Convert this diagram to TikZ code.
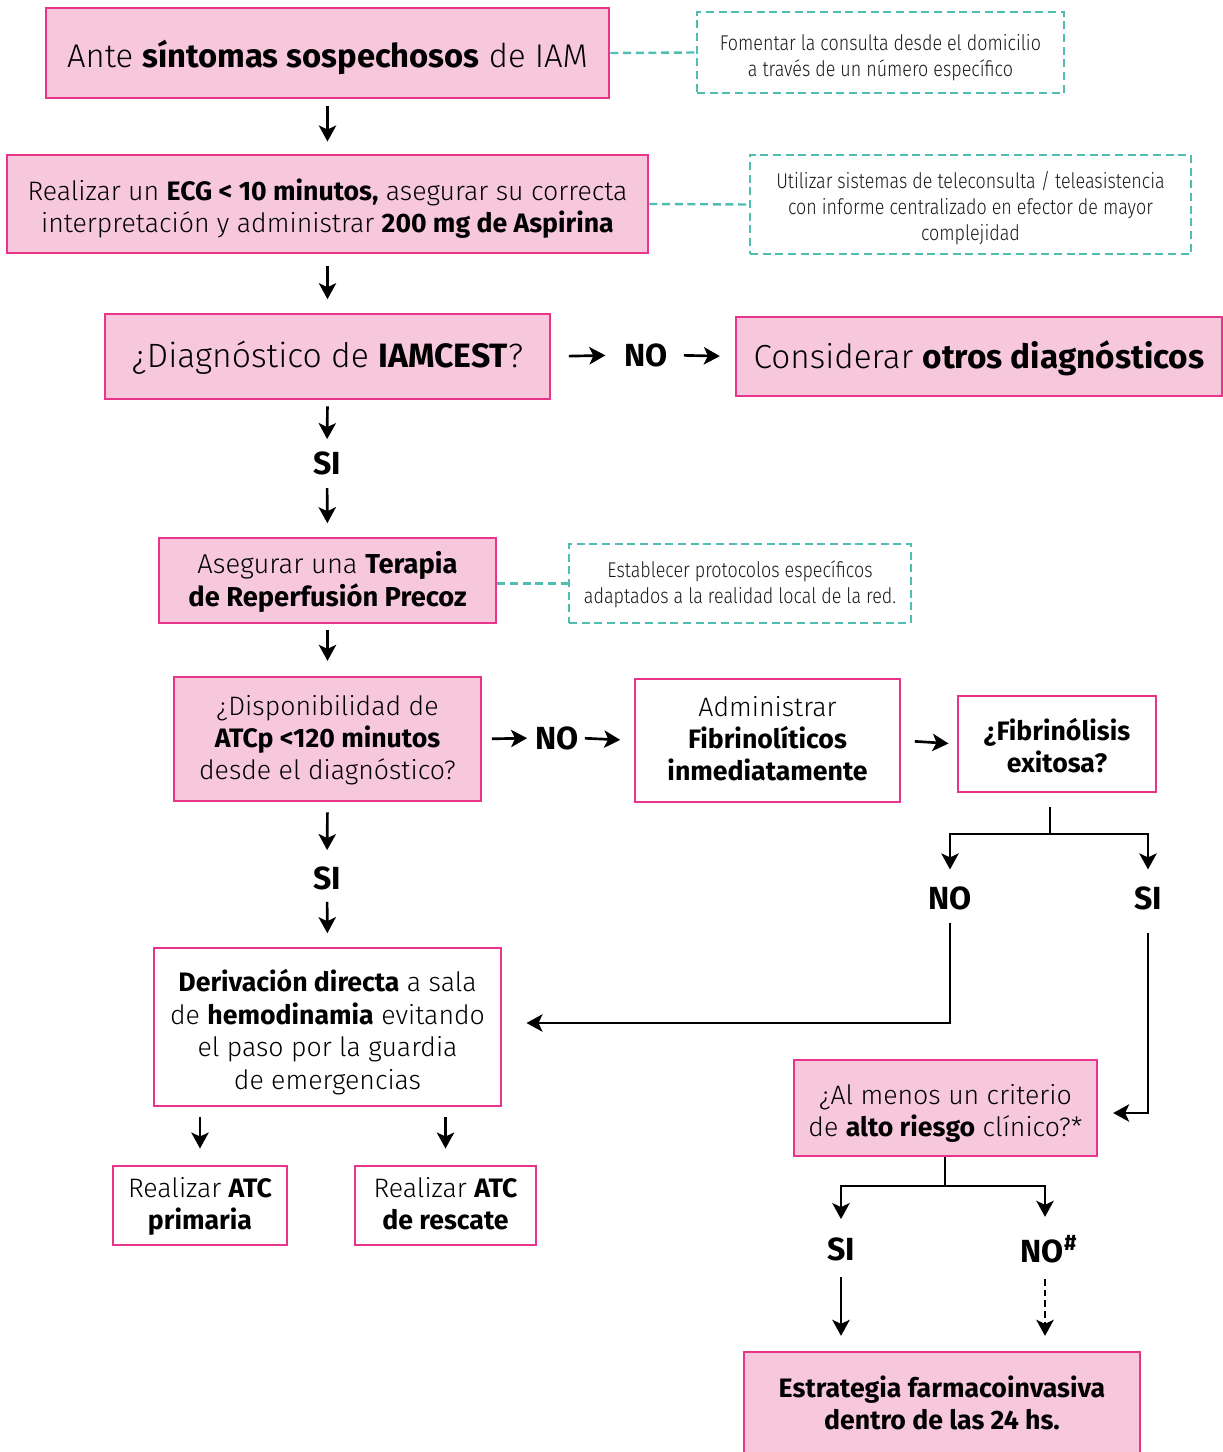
\documentclass[tikz,border=0pt]{standalone}
\usepackage{fontspec}
\setmainfont{Fira Sans Light}[BoldFont={Fira Sans Bold}]
\newfontfamily\condfont{Fira Sans Light}[FakeStretch=0.84]
\usetikzlibrary{arrows.meta}
\definecolor{pinkfill}{HTML}{F7C8DC}
\definecolor{pinkline}{HTML}{E8358B}
\definecolor{tealc}{HTML}{4FBDB1}
\newcommand\pxu{0.75pt}
\newcommand\fs[2]{\fontsize{#1}{#2}\selectfont}
\newcommand\tb[2][0pt]{\raisebox{#1}[\height][\depth]{\begin{tabular}{@{}c@{}}#2\end{tabular}}}
\tikzset{
  pinkbox/.style={draw=pinkline, line width=2.2pt, fill=pinkfill, inner sep=0pt, align=center},
  whitebox/.style={draw=pinkline, line width=2.2pt, fill=white, inner sep=0pt, align=center},
  notebox/.style={draw=tealc, line width=1.8pt, dash pattern=on 6pt off 3.5pt, inner sep=0pt, align=center, text=black!90, font=\condfont\fs{16}{19.5}},
  notelink/.style={draw=tealc, line width=1.8pt, dash pattern=on 6pt off 3.5pt},
  arr/.style={-{Stealth[length=12pt,width=13pt,inset=3pt]}, line width=2pt},
  plain/.style={line width=2pt},
  lbl/.style={inner sep=0pt, font=\bfseries\fs{24}{28}},
}
\begin{document}
\begin{tikzpicture}[x=0.75pt,y=-0.75pt]
\useasboundingbox (0,0) rectangle (1223,1452);
% main boxes
\node[pinkbox, minimum width=563*\pxu, minimum height=90*\pxu, font=\fs{24.6}{30}] (A) at (327.5,53) {\tb[-5.25pt]{Ante \textbf{síntomas sospechosos} de IAM}};
\node[notebox, minimum width=367*\pxu, minimum height=81*\pxu] (D1) at (880.5,52.5) {\tb[-4.5pt]{Fomentar la consulta desde el domicilio\\a través de un número específico}};
\node[pinkbox, minimum width=641*\pxu, minimum height=98*\pxu, font=\fs{20}{24}] (B) at (327.5,204) {\tb[-4.5pt]{Realizar un \textbf{ECG < 10 minutos,} asegurar su correcta\\interpretación y administrar \textbf{200 mg de Aspirina}}};
\node[notebox, minimum width=441*\pxu, minimum height=99*\pxu] (D2) at (970.5,204.5) {\tb[-3.75pt]{Utilizar sistemas de teleconsulta / teleasistencia\\con informe centralizado en efector de mayor\\complejidad}};
\node[pinkbox, minimum width=445*\pxu, minimum height=85*\pxu, font=\fs{25.3}{30}] (C) at (327.5,356.5) {\tb[-2.25pt]{¿Diagnóstico de \textbf{IAMCEST}?}};
\node[lbl] (NO1) at (646,355) {NO};
\node[pinkbox, minimum width=486*\pxu, minimum height=79*\pxu, font=\fs{25}{30}] (E) at (979,356.5) {\tb[-3pt]{Considerar \textbf{otros diagnósticos}}};
\node[lbl] (SI1) at (327,463) {SI};
\node[pinkbox, minimum width=337*\pxu, minimum height=85*\pxu, font=\fs{20.5}{24}] (F) at (327.5,580.5) {\tb[-2.25pt]{Asegurar una \textbf{Terapia}\\\textbf{de Reperfusión Precoz}}};
\node[notebox, minimum width=342*\pxu, minimum height=79*\pxu] (D3) at (740,583.5) {\tb[-1.5pt]{Establecer protocolos específicos\\adaptados a la realidad local de la red.}};
\node[pinkbox, minimum width=307*\pxu, minimum height=124*\pxu, font=\fs{20}{24}] (G) at (327.5,739) {\tb[-1.5pt]{¿Disponibilidad de\\\textbf{ATCp <120 minutos}\\desde el diagnóstico?}};
\node[lbl] (NO2) at (557,738) {NO};
\node[whitebox, minimum width=265*\pxu, minimum height=123*\pxu, font=\fs{20}{24}] (H) at (767.5,740.5) {\tb[-1pt]{Administrar\\\textbf{Fibrinolíticos}\\\textbf{inmediatamente}}};
\node[whitebox, minimum width=198*\pxu, minimum height=96*\pxu, font=\bfseries\fs{20}{24}] (I) at (1057,744) {\tb[-4.5pt]{¿Fibrinólisis\\exitosa?}};
\node[lbl] (SI2) at (327,878) {SI};
\node[lbl] (NO3) at (950,898) {NO};
\node[lbl] (SI3) at (1148,898) {SI};
\node[whitebox, minimum width=347*\pxu, minimum height=158*\pxu, font=\fs{20}{24.5}] (J) at (327.5,1027) {\tb[-5.25pt]{\textbf{Derivación directa} a sala\\de \textbf{hemodinamia} evitando\\el paso por la guardia\\de emergencias}};
\node[whitebox, minimum width=174*\pxu, minimum height=79*\pxu, font=\fs{20}{24}] (K) at (200,1205.5) {\tb[-1.5pt]{Realizar \textbf{ATC}\\\textbf{primaria}}};
\node[whitebox, minimum width=181*\pxu, minimum height=79*\pxu, font=\fs{20}{24}] (L) at (445.5,1205.5) {\tb[-1.5pt]{Realizar \textbf{ATC}\\\textbf{de rescate}}};
\node[pinkbox, minimum width=303*\pxu, minimum height=96*\pxu, font=\fs{20}{24}] (M) at (945.5,1108) {\tb[-4.5pt]{¿Al menos un criterio\\de \textbf{alto riesgo} clínico?*}};
\node[lbl] (SI4) at (841,1249) {SI};
\node[lbl] (NO4) at (1049,1249) {NO\textsuperscript{\#}};
\node[pinkbox, minimum width=396*\pxu, minimum height=112*\pxu, font=\bfseries\fs{20}{24}] (N) at (942,1408) {\tb[0.75pt]{Estrategia farmacoinvasiva\\dentro de las 24 hs.}};
\coordinate (j1) at (1050,834);
\coordinate (j2) at (945,1186);
% dashed links
\draw[notelink] (A.east) -- (D1.west);
\draw[notelink] (B.east) -- (D2.west);
\draw[notelink] (F.east |- D3.west) -- (D3.west);
% arrows
\draw[arr, shorten <=5pt, shorten >=9pt] (A.south) -- (B.north);
\draw[arr, shorten <=9pt, shorten >=10pt] (B.south) -- (C.north);
\draw[arr, shorten <=4.5pt, shorten >=9pt] (C.south) -- (SI1.north);
\draw[arr, shorten <=10pt, shorten >=10pt] (SI1.south) -- (F.north);
\draw[arr, shorten <=13pt, shorten >=14pt] (C.east) -- (NO1.west);
\draw[arr, shorten <=12pt, shorten >=11pt] (NO1.east) -- (E.west);
\draw[arr, shorten <=4pt, shorten >=11pt] (F.south) -- (G.north);
\draw[arr, shorten <=7pt, shorten >=6pt] (G.east) -- (NO2.west);
\draw[arr, shorten <=4.5pt, shorten >=10pt] (NO2.east) -- (H.west);
\draw[arr, shorten <=10pt, shorten >=6pt] (H.east) -- (I.west);
\draw[arr, shorten <=7.5pt, shorten >=12pt] (G.south) -- (SI2.north);
\draw[arr, shorten <=9pt, shorten >=10pt] (SI2.south) -- (J.north);
\draw[plain, shorten <=10.5pt] (j1 |- I.south) -- (j1);
\draw[arr, shorten >=12.5pt] (j1) -| (NO3.north);
\draw[arr, shorten >=12.5pt] (j1) -| (SI3.north);
\draw[arr, shorten <=10pt, shorten >=18pt] (NO3.south) |- ([yshift=3pt]J.east);
\draw[arr, shorten <=17pt, shorten >=11pt] (SI3.south) |- ([yshift=-3.75pt]M.east);
\draw[arr, shorten <=7pt, shorten >=12pt] (K.north |- J.south) -- (K.north);
\draw[arr, shorten <=7pt, shorten >=12pt] (L.north |- J.south) -- (L.north);
\draw[plain] (j2 |- M.south) -- (j2);
\draw[arr, shorten >=13.5pt] (j2) -| (SI4.north);
\draw[arr, shorten >=13.5pt] ([xshift=-3pt]j2) -| ([xshift=-3pt]NO4.north);
\draw[arr, shorten <=12pt, shorten >=11pt] (SI4.south) -- (SI4.south |- N.north);
\draw[arr, dash pattern=on 5pt off 3pt, shorten <=12pt, shorten >=11pt] ([xshift=-3pt]NO4.south) -- ([xshift=-3pt]NO4.south |- N.north);
\end{tikzpicture}
\end{document}
